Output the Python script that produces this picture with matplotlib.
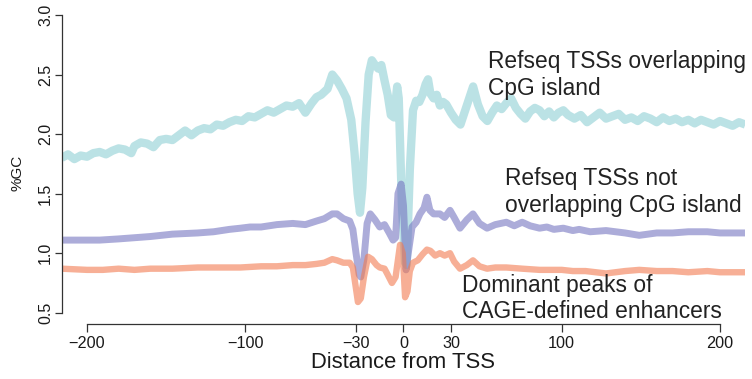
import matplotlib
matplotlib.use("Agg")
import matplotlib.pyplot as plt

plt.rcParams['font.family'] = ['Liberation Sans', 'DejaVu Sans']

# ---- data ----
cpg_x = [-216, -212, -208, -204, -200, -196, -192, -188, -184, -180, -176, -172, -170, -166,
         -162, -158, -154, -150, -146, -142, -138, -134, -130, -126, -122, -118, -114, -110,
         -106, -102, -98, -94, -90, -86, -82, -78, -74, -70, -66, -62, -58, -55, -52, -48,
         -45, -42, -39, -36, -33, -31, -29, -27.5, -26, -24, -22, -20, -18, -16, -14, -12,
         -10, -8, -6, -4, -3, -1, 1, 2, 4, 6, 8, 10, 12, 14, 15.5, 17, 19, 21, 23, 25, 27,
         30, 33, 36, 39, 42, 44, 47, 50, 53, 56, 59, 62, 65, 68, 71, 74, 77, 80, 83, 86, 89,
         92, 95, 98, 101, 104, 108, 112, 116, 120, 124, 128, 132, 136, 140, 144, 148, 152,
         156, 160, 164, 168, 172, 176, 180, 184, 188, 192, 196, 200, 204, 208, 212, 216]
cpg_y = [1.80, 1.83, 1.79, 1.82, 1.81, 1.84, 1.85, 1.83, 1.86, 1.88, 1.87, 1.84, 1.90, 1.93,
         1.92, 1.89, 1.95, 1.96, 1.95, 1.99, 2.03, 1.99, 2.03, 2.05, 2.04, 2.08, 2.07, 2.10,
         2.12, 2.11, 2.15, 2.14, 2.17, 2.20, 2.18, 2.21, 2.24, 2.23, 2.26, 2.18, 2.26, 2.31,
         2.33, 2.38, 2.50, 2.45, 2.38, 2.30, 2.12, 1.85, 1.50, 1.34, 1.55, 2.10, 2.50, 2.62,
         2.58, 2.55, 2.58, 2.45, 2.33, 2.16, 2.14, 2.40, 2.30, 1.40, 0.92, 0.90, 1.70, 2.20,
         2.28, 2.27, 2.33, 2.42, 2.46, 2.34, 2.30, 2.33, 2.24, 2.27, 2.25, 2.18, 2.12, 2.08,
         2.20, 2.32, 2.40, 2.25, 2.15, 2.11, 2.18, 2.24, 2.21, 2.26, 2.30, 2.22, 2.17, 2.13,
         2.19, 2.22, 2.20, 2.15, 2.19, 2.14, 2.18, 2.20, 2.16, 2.13, 2.16, 2.10, 2.14, 2.18,
         2.13, 2.15, 2.17, 2.12, 2.14, 2.11, 2.15, 2.13, 2.10, 2.14, 2.11, 2.13, 2.10, 2.12,
         2.09, 2.12, 2.10, 2.08, 2.11, 2.09, 2.07, 2.10, 2.08]

noncpg_x = [-216, -200, -192, -180, -170, -160, -146, -130, -120, -110, -103, -97, -90, -80,
            -70, -62, -55, -50, -45, -42, -38, -34, -32, -30, -28, -27, -25, -23, -21, -18,
            -15, -12, -9, -6.6, -5, -3.5, -1.5, 0, 1.6, 3, 5.4, 8, 10.4, 13, 14.8, 16.7, 19,
            23, 26, 29.4, 32, 35.7, 40, 43.9, 48, 52.8, 58, 65, 70, 75, 80, 86, 90.6, 95, 101,
            107, 111, 118, 128, 140, 149, 160, 170, 180, 192, 200, 216]
noncpg_y = [1.11, 1.11, 1.11, 1.12, 1.13, 1.14, 1.16, 1.17, 1.18, 1.20, 1.21, 1.22, 1.22, 1.24,
            1.25, 1.24, 1.27, 1.29, 1.33, 1.33, 1.29, 1.27, 1.20, 1.00, 0.82, 0.80, 0.95, 1.25,
            1.33, 1.28, 1.22, 1.24, 1.17, 1.11, 1.13, 1.50, 1.58, 1.40, 0.86, 1.00, 1.22, 1.26,
            1.33, 1.38, 1.47, 1.36, 1.33, 1.33, 1.30, 1.36, 1.30, 1.21, 1.28, 1.33, 1.25, 1.21,
            1.24, 1.26, 1.23, 1.26, 1.23, 1.21, 1.22, 1.20, 1.21, 1.19, 1.20, 1.18, 1.19, 1.17,
            1.15, 1.17, 1.17, 1.18, 1.18, 1.17, 1.17]

enh_x = [-216, -200, -190, -180, -170, -160, -146, -130, -115, -103, -90, -80, -70, -62, -55,
         -50, -45, -42, -38, -34, -32, -30, -28.8, -27, -25, -22.4, -20, -17, -15, -12, -10,
         -7.3, -5, -2.2, -0.5, 1, 2.5, 4, 6, 9, 12, 14.8, 17, 20, 23, 26, 29.4, 32, 35.7, 40,
         43.9, 48, 52.8, 58, 65, 75, 86, 100, 107, 115, 128, 140, 149, 160, 170, 180, 192,
         200, 216]
enh_y = [0.87, 0.86, 0.86, 0.87, 0.86, 0.87, 0.87, 0.88, 0.88, 0.88, 0.89, 0.89, 0.90, 0.90,
         0.91, 0.92, 0.95, 0.94, 0.92, 0.92, 0.88, 0.70, 0.59, 0.62, 0.80, 0.97, 0.95, 0.90,
         0.88, 0.87, 0.82, 0.75, 0.80, 1.07, 1.00, 0.63, 0.68, 0.85, 0.92, 0.94, 0.99, 1.03,
         1.02, 0.98, 1.00, 0.98, 1.00, 0.93, 0.87, 0.90, 0.94, 0.89, 0.87, 0.88, 0.88, 0.87,
         0.86, 0.86, 0.85, 0.85, 0.83, 0.85, 0.86, 0.85, 0.85, 0.84, 0.85, 0.84, 0.84]

x_ticks = [-200, -100, -30, 0, 30, 100, 200]
y_ticks = [0.5, 1.0, 1.5, 2.0, 2.5, 3.0]

labels = [("Refseq TSSs overlapping", "CpG island"),
          ("Refseq TSSs not", "overlapping CpG island"),
          ("Dominant peaks of", "CAGE-defined enhancers")]

# ---- figure ----
W, H = 752, 379
fig = plt.figure(figsize=(W / 100, H / 100), dpi=100)
ax = fig.add_axes([62 / W, (H - 324) / H, (745 - 62) / W, (324 - 15) / H])

ax.plot(cpg_x, cpg_y, color='#8FCFD4', alpha=0.6, lw=6,
        solid_joinstyle='round', solid_capstyle='butt')
ax.plot(noncpg_x, noncpg_y, color='#7575C1', alpha=0.6, lw=5,
        solid_joinstyle='round', solid_capstyle='butt')
ax.plot(enh_x, enh_y, color='#F27B50', alpha=0.6, lw=4.6,
        solid_joinstyle='round', solid_capstyle='butt')

ax.set_xlim(-215.8, 215.8)
ax.set_ylim(0.4055, 3.0)

for s in ['top', 'right']:
    ax.spines[s].set_visible(False)
for s in ['left', 'bottom']:
    ax.spines[s].set_color('#333333')
    ax.spines[s].set_linewidth(0.9)
ax.spines['left'].set_bounds(0.5, 3.0)
ax.spines['bottom'].set_bounds(-200, 200)

ax.set_xticks(x_ticks)
ax.set_xticklabels([("\u2212%d" % -t) if t < 0 else str(t) for t in x_ticks])
ax.set_yticks(y_ticks)
ax.set_yticklabels(["%.1f" % v for v in y_ticks])
ax.tick_params(axis='x', length=5.5, width=0.9, color='#333333', pad=3.5,
               labelsize=11.7, labelcolor='#1a1a1a')
ax.tick_params(axis='y', length=5.3, width=0.9, color='#333333', pad=1.0,
               labelsize=11.5, labelcolor='#1a1a1a', labelrotation=90)
for lab in ax.get_yticklabels():
    lab.set_va('center')

ax.set_xlabel("Distance from TSS", fontsize=15.8, color='#1a1a1a', labelpad=0)
ax.set_ylabel("%GC", fontsize=11, color='#1a1a1a')
ax.yaxis.set_label_coords(-0.055, 0.49)

# annotations, positioned by pixel (left, baseline of each line)
pos = [(488, 68, 95), (505, 185, 212), (462, 292, 318)]
for (l1, l2), (xp, b1, b2) in zip(labels, pos):
    fig.text(xp / W, (H - b1) / H, l1, fontsize=16.4, color='#222222', va='baseline', ha='left')
    fig.text(xp / W, (H - b2) / H, l2, fontsize=16.4, color='#222222', va='baseline', ha='left')

fig.savefig("out.png", dpi=100)
